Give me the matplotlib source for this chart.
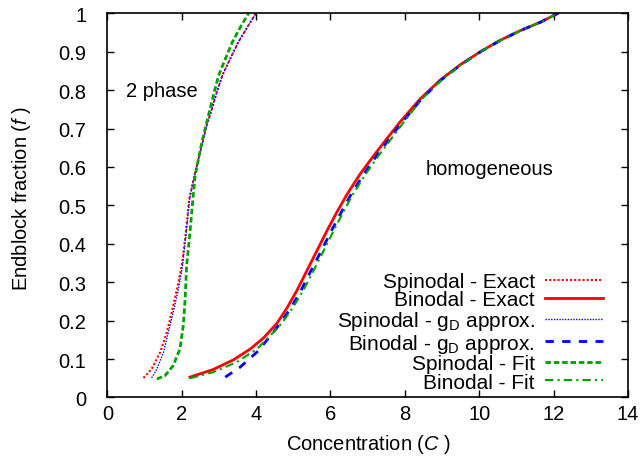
"""
Phase diagram: spinodal and binodal curves, endblock fraction vs concentration
"""
import matplotlib
matplotlib.use('Agg')
from matplotlib import pyplot as plt

# Spinodal - Exact
sp_exact_c = [0.97, 1.19, 1.42, 1.60, 1.73, 1.87, 2.0, 2.11, 2.20, 2.34, 2.45, 2.56, 2.67,
              2.81, 2.94, 3.09, 3.30, 3.52, 3.79, 3.99]
sp_exact_f = [0.051, 0.074, 0.118, 0.17, 0.222, 0.282, 0.343, 0.43, 0.517, 0.577, 0.621, 0.664,
              0.708, 0.751, 0.794, 0.838, 0.881, 0.925, 0.968, 1.0]

# Spinodal - gD approx.
sp_gd_c = [1.19, 1.33, 1.51, 1.64, 1.77, 1.91, 2.02, 2.12, 2.21, 2.34, 2.45, 2.56, 2.67,
           2.81, 2.94, 3.09, 3.30, 3.52, 3.79, 4.0]
sp_gd_f = [0.051, 0.074, 0.118, 0.17, 0.222, 0.282, 0.343, 0.43, 0.517, 0.577, 0.621, 0.664,
           0.708, 0.751, 0.794, 0.838, 0.881, 0.925, 0.968, 1.0]

# Spinodal - Fit
sp_fit_c = [1.33, 1.55, 1.77, 1.95, 2.04, 2.09, 2.13, 2.22, 2.30, 2.36, 2.45, 2.54, 2.65,
            2.76, 2.87, 2.99, 3.17, 3.36, 3.60, 3.80]
sp_fit_f = [0.048, 0.057, 0.083, 0.126, 0.187, 0.256, 0.343, 0.43, 0.517, 0.577, 0.621, 0.664,
            0.708, 0.751, 0.794, 0.838, 0.881, 0.925, 0.968, 1.0]

# Binodal - Exact
bi_exact_c = [2.22, 2.85, 3.39, 3.84, 4.20, 4.56, 4.83, 5.10, 5.36, 5.63, 5.90, 6.17, 6.44,
              6.80, 7.16, 7.52, 7.88, 8.41, 8.95, 9.49, 10.03, 10.57, 11.11, 11.65, 12.12]
bi_exact_f = [0.053, 0.073, 0.098, 0.126, 0.155, 0.193, 0.233, 0.279, 0.329, 0.381, 0.433, 0.482,
              0.528, 0.582, 0.629, 0.674, 0.718, 0.777, 0.826, 0.866, 0.9, 0.93, 0.955,
              0.977, 1.0]

# Binodal - gD approx.
bi_gd_c = [3.17, 3.57, 4.02, 4.34, 4.65, 4.93, 5.21, 5.47, 5.75, 6.02, 6.29, 6.55, 6.90,
           7.24, 7.59, 7.94, 8.45, 8.97, 9.51, 10.04, 10.58, 11.11, 11.65, 12.12]
bi_gd_f = [0.053, 0.079, 0.118, 0.155, 0.193, 0.233, 0.279, 0.329, 0.381, 0.433, 0.482, 0.528,
           0.582, 0.629, 0.674, 0.718, 0.777, 0.826, 0.866, 0.9, 0.93, 0.955, 0.977, 1.0]

# Binodal - Fit
bi_fit_c = [2.22, 2.85, 3.48, 4.02, 4.38, 4.69, 4.98, 5.27, 5.54, 5.81, 6.08, 6.34, 6.60,
            6.95, 7.29, 7.64, 7.98, 8.46, 8.98, 9.51, 10.04, 10.58, 11.11, 11.65, 12.12]
bi_fit_f = [0.05, 0.066, 0.092, 0.126, 0.161, 0.193, 0.233, 0.279, 0.329, 0.381, 0.433, 0.482,
            0.528, 0.582, 0.629, 0.674, 0.718, 0.777, 0.826, 0.866, 0.9, 0.93, 0.955, 0.977, 1.0]

x_ticks = list(range(0, 15, 2))
y_ticks = [0, 0.1, 0.2, 0.3, 0.4, 0.5, 0.6, 0.7, 0.8, 0.9, 1]
y_tick_labels = ['0', '0.1', '0.2', '0.3', '0.4', '0.5', '0.6', '0.7', '0.8', '0.9', '1']


def main():
    plt.rcParams['font.family'] = ['Liberation Sans', 'DejaVu Sans']
    plt.rcParams['font.size'] = 14.5
    plt.rcParams['mathtext.fontset'] = 'custom'
    plt.rcParams['mathtext.rm'] = 'Liberation Sans'
    plt.rcParams['mathtext.it'] = 'Liberation Sans:italic'

    fig = plt.figure(figsize=(6.44, 4.64), dpi=100)
    ax = fig.add_axes([0.1668, 0.1412, 0.8082, 0.8280])

    ax.plot(sp_exact_c, sp_exact_f, color='#ff0000', lw=1.5, ls=(0, (1, 1)),
            label='Spinodal - Exact')
    ax.plot(bi_exact_c, bi_exact_f, color='#ff0000', lw=2.0, ls='-',
            label='Binodal - Exact')
    ax.plot(sp_gd_c, sp_gd_f, color='#0000ff', lw=1.0, ls=(0, (1, 1)),
            label='Spinodal - $\\mathregular{g_D}$ approx.')
    ax.plot(bi_gd_c, bi_gd_f, color='#0000ff', lw=2.0, ls=(0, (3, 3)),
            label='Binodal - $\\mathregular{g_D}$ approx.')
    ax.plot(sp_fit_c, sp_fit_f, color='#00a000', lw=2.0, ls=(0, (2, 1)),
            label='Spinodal - Fit')
    ax.plot(bi_fit_c, bi_fit_f, color='#00a000', lw=1.5, ls=(0, (4, 2, 1, 2)),
            label='Binodal - Fit')

    ax.set_xlim(0, 14)
    ax.set_ylim(0, 1)
    ax.set_xticks(x_ticks)
    ax.set_yticks(y_ticks)
    ax.set_yticklabels(y_tick_labels)
    ax.tick_params(direction='in', top=True, right=True, length=5, width=1)
    ax.tick_params(axis='x', pad=4.5)
    ax.tick_params(axis='y', pad=15)
    for s in ax.spines.values():
        s.set_linewidth(1.2)

    ax.set_xlabel('Concentration ($C$ )')
    ax.set_ylabel('Endblock fraction ($f$ )')
    ax.xaxis.set_label_coords(0.502, -0.09)
    ax.yaxis.set_label_coords(-0.143, 0.52)

    ax.text(0.5, 0.8, '2 phase', ha='left', va='center')
    ax.text(8.55, 0.595, 'homogeneous', ha='left', va='center')

    ax.legend(loc='lower right', bbox_to_anchor=(0.953, 0.015), frameon=False,
              markerfirst=False, handlelength=2.8, labelspacing=-0.02,
              handletextpad=0.5, borderaxespad=0, borderpad=0, fontsize=15)

    fig.savefig('out.png', dpi=100)


if __name__ == '__main__':
    main()
